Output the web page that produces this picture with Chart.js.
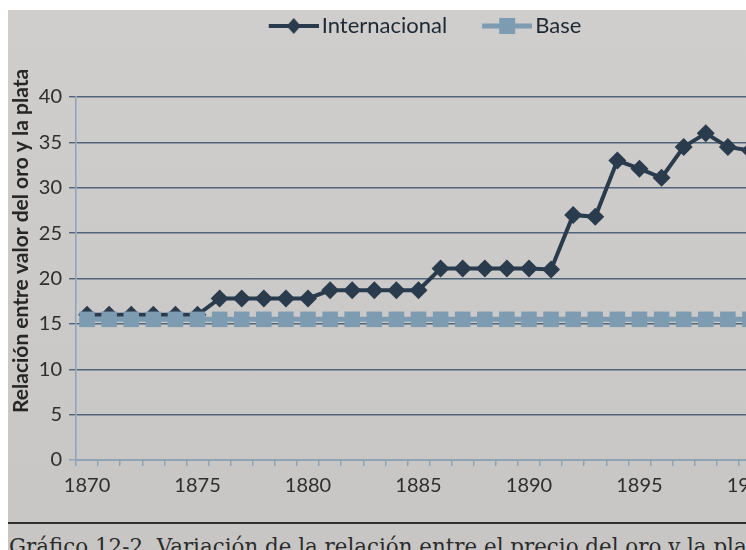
<!DOCTYPE html>
<html>
<head>
<meta charset="utf-8">
<script src="https://cdn.jsdelivr.net/npm/chart.js@4.4.1/dist/chart.umd.min.js"></script>
<style>
  html, body { margin: 0; padding: 0; background: #ffffff; }
  #page { position: relative; width: 746px; height: 550px; overflow: hidden; background: #ffffff; }
  #paper { position: absolute; left: 8px; top: 10px; right: 0; bottom: 0;
           background: linear-gradient(#cfcecc, #c7c6c4); }
  #wrap { position: absolute; left: 0; top: 0; width: 860px; height: 515px; }
  #rule { position: absolute; left: 8px; right: 0; top: 522px; height: 2px; background: #2f2f2f; }
  #caption { position: absolute; left: 9px; top: 534px; white-space: nowrap;
             font-family: "DejaVu Serif", serif; font-size: 21.4px; line-height: 1.17; color: #2b2b2b; }
</style>
</head>
<body>
<div id="page">
  <div id="paper"></div>
  <div id="wrap"><canvas id="chart" width="860" height="515"></canvas></div>
  <div id="rule"></div>
  <div id="caption">Gráfico 12-2. Variación de la relación entre el precio del oro y la plata</div>
</div>
<script>
// Years on the category axis
const years = [1870, 1871, 1872, 1873, 1874, 1875, 1876, 1877, 1878, 1879,
               1880, 1881, 1882, 1883, 1884, 1885, 1886, 1887, 1888, 1889,
               1890, 1891, 1892, 1893, 1894, 1895, 1896, 1897, 1898, 1899, 1900];

// Gold / silver value ratio, international market
const internacional = [16.0, 16.0, 16.0, 16.0, 16.0, 16.0, 17.8, 17.8, 17.8, 17.8,
                       17.8, 18.7, 18.7, 18.7, 18.7, 18.7, 21.1, 21.1, 21.1, 21.1,
                       21.1, 21.0, 27.0, 26.8, 33.0, 32.1, 31.1, 34.5, 36.0, 34.5, 34.1];

// Gold / silver base ratio
const base = [15.5, 15.5, 15.5, 15.5, 15.5, 15.5, 15.5, 15.5, 15.5, 15.5,
              15.5, 15.5, 15.5, 15.5, 15.5, 15.5, 15.5, 15.5, 15.5, 15.5,
              15.5, 15.5, 15.5, 15.5, 15.5, 15.5, 15.5, 15.5, 15.5, 15.5, 15.5];

const xTickLabels = ['1870', '1875', '1880', '1885', '1890', '1895', '1900'];
const yTicks = [0, 5, 10, 15, 20, 25, 30, 35, 40];
const yAxisTitle = 'Relación entre valor del oro y la plata';

const DARK = '#293b4d';
const LIGHT = '#7d9cb2';
const AXIS = '#8ea3b5';
const GRID = '#506579';

// Legend samples: a short line with the series marker in the middle
function legendSample(kind) {
  const c = document.createElement('canvas');
  c.width = 83; c.height = 22;
  const g = c.getContext('2d');
  const x0 = 33, x1 = 83, cy = 11, cx = (x0 + x1) / 2;
  g.strokeStyle = kind === 'diamond' ? DARK : LIGHT;
  g.fillStyle = g.strokeStyle;
  g.lineWidth = kind === 'diamond' ? 4 : 5;
  g.beginPath(); g.moveTo(x0, cy); g.lineTo(x1, cy); g.stroke();
  g.beginPath();
  if (kind === 'diamond') {
    g.moveTo(cx, cy - 8); g.lineTo(cx + 7, cy); g.lineTo(cx, cy + 8); g.lineTo(cx - 7, cy);
    g.closePath();
  } else {
    g.rect(cx - 8, cy - 8, 16, 16);
  }
  g.fill();
  return c;
}
const samples = [legendSample('diamond'), legendSample('square')];

// Extra room between legend and plot, and a small nudge of the legend row
const legendGap = {
  id: 'legendGap',
  beforeInit(chart) {
    const fit = chart.legend.fit;
    chart.legend.fit = function () { fit.call(this); this.height += 50; };
  },
  afterLayout(chart) {
    chart.legend.left -= 6;
    chart.legend.right -= 6;
  }
};

// Rotated axis title next to the value axis
const sideTitle = {
  id: 'sideTitle',
  afterDraw(chart) {
    const c = chart.ctx;
    c.save();
    c.translate(21, 413);
    c.rotate(-Math.PI / 2);
    c.font = 'bold 21px Lato';
    c.fillStyle = '#262626';
    c.textAlign = 'left';
    c.textBaseline = 'middle';
    c.fillText(yAxisTitle, 0, 0);
    c.restore();
  }
};

new Chart(document.getElementById('chart'), {
  type: 'line',
  data: {
    labels: years.map(String),
    datasets: [
      {
        label: 'Internacional',
        data: internacional,
        borderColor: DARK,
        backgroundColor: DARK,
        borderWidth: 4,
        pointStyle: 'rectRot',
        pointRadius: 9,
        pointBorderWidth: 0,
        pointBackgroundColor: DARK,
        tension: 0,
        order: 1
      },
      {
        label: 'Base',
        data: base,
        borderColor: LIGHT,
        backgroundColor: LIGHT,
        borderWidth: 5,
        pointStyle: 'rect',
        pointRadius: 11,
        pointBorderWidth: 0,
        pointBackgroundColor: LIGHT,
        tension: 0,
        order: 0
      }
    ]
  },
  options: {
    responsive: false,
    animation: false,
    layout: { padding: { top: 5, left: 0, right: 99, bottom: 0 } },
    plugins: {
      tooltip: { enabled: false },
      legend: {
        position: 'top',
        fullSize: false,
        labels: {
          usePointStyle: true,
          pointStyleWidth: 67,
          padding: 10,
          color: '#1e2833',
          font: { family: 'Lato', size: 22 },
          generateLabels: (chart) => chart.data.datasets.map((ds, i) => ({
            text: ds.label,
            pointStyle: samples[i],
            fillStyle: ds.borderColor,
            strokeStyle: ds.borderColor,
            lineWidth: 0,
            hidden: false,
            datasetIndex: i,
            fontColor: '#1e2833'
          }))
        }
      }
    },
    scales: {
      x: {
        type: 'category',
        offset: true,
        afterFit: (s) => { s.height = 515 - 460; },
        grid: {
          offset: true,
          drawOnChartArea: false,
          drawTicks: true,
          tickLength: 6,
          color: AXIS,
          lineWidth: 1.5
        },
        border: { color: AXIS, width: 2 },
        ticks: {
          autoSkip: false,
          maxRotation: 0,
          padding: 8,
          color: '#2e2e2e',
          font: { family: 'Lato', size: 20 },
          callback: (v, i) => xTickLabels.includes(String(years[i])) ? String(years[i]) : ''
        }
      },
      y: {
        min: 0,
        max: 40,
        afterFit: (s) => { s.width = 76; },
        afterBuildTicks: (s) => { s.ticks = yTicks.map(v => ({ value: v })); },
        grid: {
          drawTicks: true,
          tickLength: 7,
          color: (ctx) => ctx.tick && ctx.tick.value === 0 ? AXIS : GRID,
          lineWidth: 1.4
        },
        border: { color: AXIS, width: 1.5 },
        ticks: {
          padding: 7,
          color: '#2e2e2e',
          font: { family: 'Lato', size: 20 }
        }
      }
    }
  },
  plugins: [legendGap, sideTitle]
});
</script>
</body>
</html>
